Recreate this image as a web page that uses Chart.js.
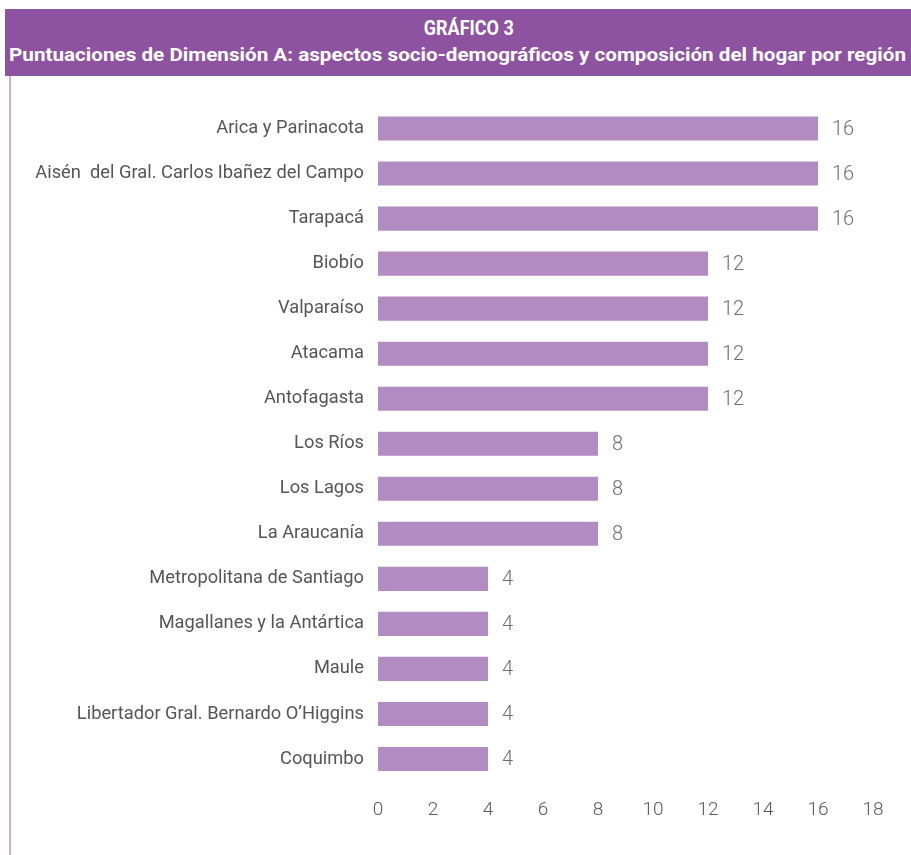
<!DOCTYPE html>
<html lang="es">
<head>
<meta charset="utf-8">
<title>Gráfico 3</title>
<script src="https://cdn.jsdelivr.net/npm/chart.js@4"></script>
<style>
    body { margin: 0; background: #fff; width: 911px; height: 855px; position: relative; overflow: hidden; }
    .cabecera {
        position: absolute; left: 5px; top: 9px; width: 906px; height: 67px;
        background: #8e53a0; color: #fff; text-align: center;
        font-family: "Roboto", "Noto Sans", sans-serif; font-weight: bold;
    }
    .cabecera .num { font-size: 20px; line-height: 24px; padding-top: 7px; padding-left: 24px; transform: scaleX(0.9); }
    .cabecera .sub { font-size: 19px; line-height: 26px; margin-top: 2px; white-space: nowrap; display: inline-block; transform-origin: center; }
    .borde { position: absolute; left: 9px; top: 76px; width: 2px; height: 779px; background: #cdaedb; }
    .grafico { position: absolute; left: 11px; top: 76px; width: 900px; height: 779px; }
</style>
</head>
<body>
<div class="cabecera">
    <div class="num">GRÁFICO 3</div>
    <div class="sub" id="subtitulo">Puntuaciones de Dimensión A: aspectos socio-demográficos y composición del hogar por región</div>
</div>
<div class="borde"></div>
<div class="grafico"><canvas id="dimensionAChart"></canvas></div>
<script>
// ============================================
// DATOS
// ============================================
const regiones = [
    'Arica y Parinacota',
    'Aisén  del Gral. Carlos Ibañez del Campo',
    'Tarapacá',
    'Biobío',
    'Valparaíso',
    'Atacama',
    'Antofagasta',
    'Los Ríos',
    'Los Lagos',
    'La Araucanía',
    'Metropolitana de Santiago',
    'Magallanes y la Antártica',
    'Maule',
    'Libertador Gral. Bernardo O’Higgins',
    'Coquimbo'
];
const puntajes = [16, 16, 16, 12, 12, 12, 12, 8, 8, 8, 4, 4, 4, 4, 4];
const ejeMin = 0;
const ejeMax = 18;
const ejePaso = 2;

// Ajustar el subtítulo (fuente condensada en el original)
const sub = document.getElementById('subtitulo');
const anchoSub = sub.getBoundingClientRect().width;
sub.style.transform = 'scaleX(' + (897 / anchoSub) + ')';

// Etiquetas de valor al final de cada barra
const etiquetasValor = {
    id: 'etiquetasValor',
    afterDatasetsDraw(chart) {
        const ctx = chart.ctx;
        const meta = chart.getDatasetMeta(0);
        ctx.save();
        ctx.font = '300 20px Roboto, sans-serif';
        ctx.fillStyle = '#6e6e6e';
        ctx.textAlign = 'left';
        ctx.textBaseline = 'middle';
        meta.data.forEach((barra, i) => {
            ctx.fillText(String(puntajes[i]), barra.x + 14, barra.y + 1);
        });
        ctx.restore();
    }
};

const ctx = document.getElementById('dimensionAChart').getContext('2d');
new Chart(ctx, {
    type: 'bar',
    data: {
        labels: regiones,
        datasets: [{
            data: puntajes,
            backgroundColor: '#b18bc2',
            borderWidth: 0,
            categoryPercentage: 1,
            barPercentage: 0.535
        }]
    },
    options: {
        indexAxis: 'y',
        responsive: true,
        maintainAspectRatio: false,
        animation: false,
        layout: { padding: { left: 0, right: 38, top: 30, bottom: 0 } },
        plugins: {
            legend: { display: false },
            tooltip: { enabled: false }
        },
        scales: {
            x: {
                min: ejeMin,
                max: ejeMax,
                grid: { display: false, drawTicks: false },
                border: { display: false },
                ticks: {
                    stepSize: ejePaso,
                    padding: 17,
                    color: '#595959',
                    font: { family: 'Roboto, sans-serif', size: 19, weight: '300' }
                },
                afterFit(scale) { scale.height = 73.5; }
            },
            y: {
                grid: { display: false, drawTicks: false },
                border: { display: false },
                ticks: {
                    padding: 14,
                    autoSkip: false,
                    color: '#555555',
                    font: { family: 'Roboto, sans-serif', size: 18.3 }
                },
                afterFit(scale) { scale.width = 367; }
            }
        }
    },
    plugins: [etiquetasValor]
});
</script>
</body>
</html>
